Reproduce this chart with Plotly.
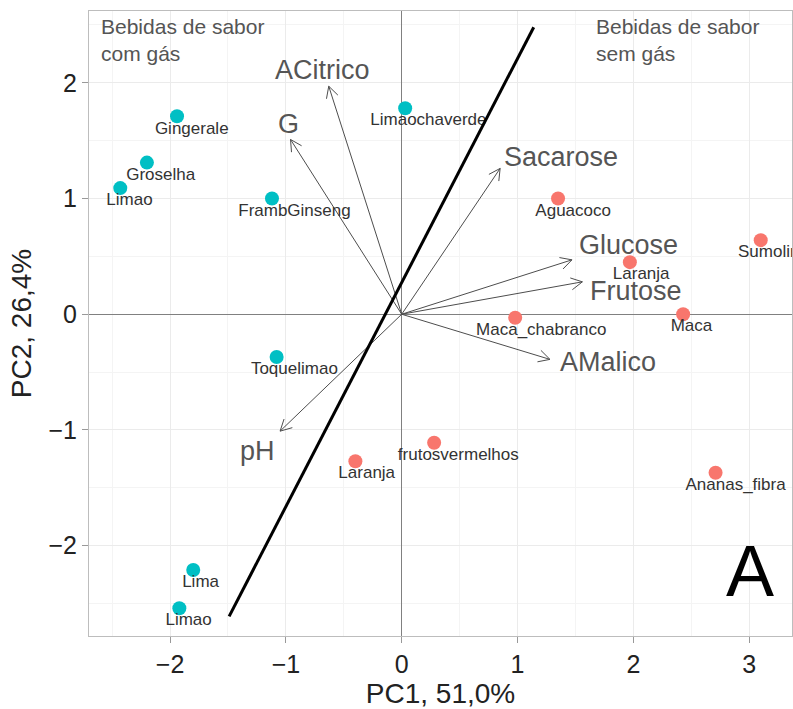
import math
import plotly.graph_objects as go

# Sample scores on the first two principal components
com_gas_names = ["Gingerale", "Groselha", "Limao", "FrambGinseng", "Limaochaverde",
                 "Toquelimao", "Lima", "Limao"]
com_gas_pc1 = [-1.94, -2.20, -2.43, -1.12, 0.03, -1.08, -1.80, -1.92]
com_gas_pc2 = [1.71, 1.31, 1.09, 1.00, 1.78, -0.37, -2.21, -2.54]

sem_gas_names = ["Aguacoco", "Sumolima", "Laranja", "Maca", "Maca_chabranco",
                 "frutosvermelhos", "Ananas_fibra", "Laranja"]
sem_gas_pc1 = [1.35, 3.10, 1.97, 2.43, 0.98, 0.28, 2.71, -0.40]
sem_gas_pc2 = [1.00, 0.64, 0.45, 0.00, -0.03, -1.11, -1.37, -1.27]

# Variable loadings (arrow tips) and where their names sit
var_names = ["ACitrico", "G", "Sacarose", "Glucose", "Frutose", "AMalico", "pH"]
var_pc1 = [-0.63, -0.96, 0.85, 1.47, 1.56, 1.28, -1.05]
var_pc2 = [1.97, 1.51, 1.26, 0.47, 0.28, -0.39, -1.01]
var_label_x = [-0.68, -0.98, 0.87, 1.51, 1.61, 1.35, -1.08]
var_label_y = [2.11, 1.64, 1.36, 0.60, 0.20, -0.41, -1.18]
var_label_anchor = ["center", "center", "left", "left", "left", "left", "right"]

# Dividing line between the two groups
divider_pc1 = [-1.49, 1.14]
divider_pc2 = [-2.61, 2.48]

x_range = [-2.70, 3.37]
y_range = [-2.78, 2.62]

TEAL = "#00BFC4"
SALMON = "#F8766D"
FONT = "Liberation Sans, Arial, Helvetica, sans-serif"
LABEL_SIZE = 17
PX_PER_UNIT = 115.8

# Approximate Arial advance widths (em) for label centring
_W = {c: 0.556 for c in "abdeghnopqu0123456789_"}
_W.update({"c": 0.5, "s": 0.5, "k": 0.5, "v": 0.5, "x": 0.5, "y": 0.5, "z": 0.5,
           "f": 0.278, "t": 0.278, "i": 0.222, "j": 0.222, "l": 0.222, "r": 0.333,
           "m": 0.833, "w": 0.722, "A": 0.667, "F": 0.611, "G": 0.778, "L": 0.556,
           "M": 0.833, "T": 0.611, "S": 0.667})


def text_width(s, size):
    return sum(_W.get(ch, 0.556) for ch in s) * size


def label_positions(names, xs, ys):
    lx, ly = [], []
    for n, x, y in zip(names, xs, ys):
        w = text_width(n, LABEL_SIZE)
        lx.append(x + 0.2 * w / PX_PER_UNIT)
        ly.append(y - 13 / PX_PER_UNIT)
    return lx, ly


fig = go.Figure()

# Loading arrows with open heads
ax, ay = [], []
head_len, head_ang = 0.11, math.radians(28)
for x, y in zip(var_pc1, var_pc2):
    ax += [0, x, None]
    ay += [0, y, None]
    ang = math.atan2(y, x)
    for s in (1, -1):
        a = ang + math.pi + s * head_ang
        ax += [x, x + head_len * math.cos(a), None]
        ay += [y, y + head_len * math.sin(a), None]
fig.add_trace(go.Scatter(x=ax, y=ay, mode="lines",
                         line=dict(color="#4d4d4d", width=1), hoverinfo="skip"))

for names, xs, ys, col in [(com_gas_names, com_gas_pc1, com_gas_pc2, TEAL),
                           (sem_gas_names, sem_gas_pc1, sem_gas_pc2, SALMON)]:
    fig.add_trace(go.Scatter(x=xs, y=ys, mode="markers",
                             marker=dict(color=col, size=14, line=dict(width=0))))
    lx, ly = label_positions(names, xs, ys)
    fig.add_trace(go.Scatter(x=lx, y=ly, mode="text", text=names,
                             textposition="middle center", cliponaxis=True,
                             textfont=dict(family=FONT, size=LABEL_SIZE, color="#333333")))

fig.add_trace(go.Scatter(x=divider_pc1, y=divider_pc2, mode="lines",
                         line=dict(color="black", width=3)))

for n, x, y, anc in zip(var_names, var_label_x, var_label_y, var_label_anchor):
    fig.add_annotation(x=x, y=y, text=n, showarrow=False, xanchor=anc, yanchor="middle",
                       font=dict(family=FONT, size=27, color="#555555"))

fig.add_annotation(xref="paper", yref="paper", x=0.0, y=1.0, xshift=10, yshift=-2,
                   xanchor="left", yanchor="top", align="left",
                   text="Bebidas de sabor<br>com gás", showarrow=False,
                   font=dict(family=FONT, size=21, color="#555555"))
fig.add_annotation(xref="paper", yref="paper", x=1.0, y=1.0, xshift=-198, yshift=-2,
                   xanchor="left", yanchor="top", align="left",
                   text="Bebidas de sabor<br>sem gás", showarrow=False,
                   font=dict(family=FONT, size=21, color="#555555"))
fig.add_annotation(x=3.01, y=-2.22, text="A", showarrow=False,
                   xanchor="center", yanchor="middle",
                   font=dict(family=FONT, size=72, color="black"))

axis_common = dict(
    showgrid=True, gridcolor="#ebebeb", gridwidth=1,
    minor=dict(showgrid=True, gridcolor="#f4f4f4", dtick=0.5, gridwidth=1),
    dtick=1, zeroline=True, zerolinecolor="#808080", zerolinewidth=1,
    showline=True, mirror=True, linecolor="#bdbdbd", linewidth=1,
    ticks="outside", ticklen=6, tickcolor="#999999", tickwidth=1,
    tickfont=dict(family=FONT, size=25, color="#222222"),
)

fig.update_layout(
    width=793, height=709,
    margin=dict(l=89, r=1, t=11, b=73),
    paper_bgcolor="white", plot_bgcolor="white",
    showlegend=False,
    xaxis=dict(range=x_range, **axis_common,
               title=dict(text="PC1, 51,0%", standoff=2,
                          font=dict(family=FONT, size=28, color="#222222"))),
    yaxis=dict(range=y_range, **axis_common,
               title=dict(text="PC2, 26,4%", standoff=8,
                          font=dict(family=FONT, size=28, color="#222222"))),
)

fig.write_html("out.html")
